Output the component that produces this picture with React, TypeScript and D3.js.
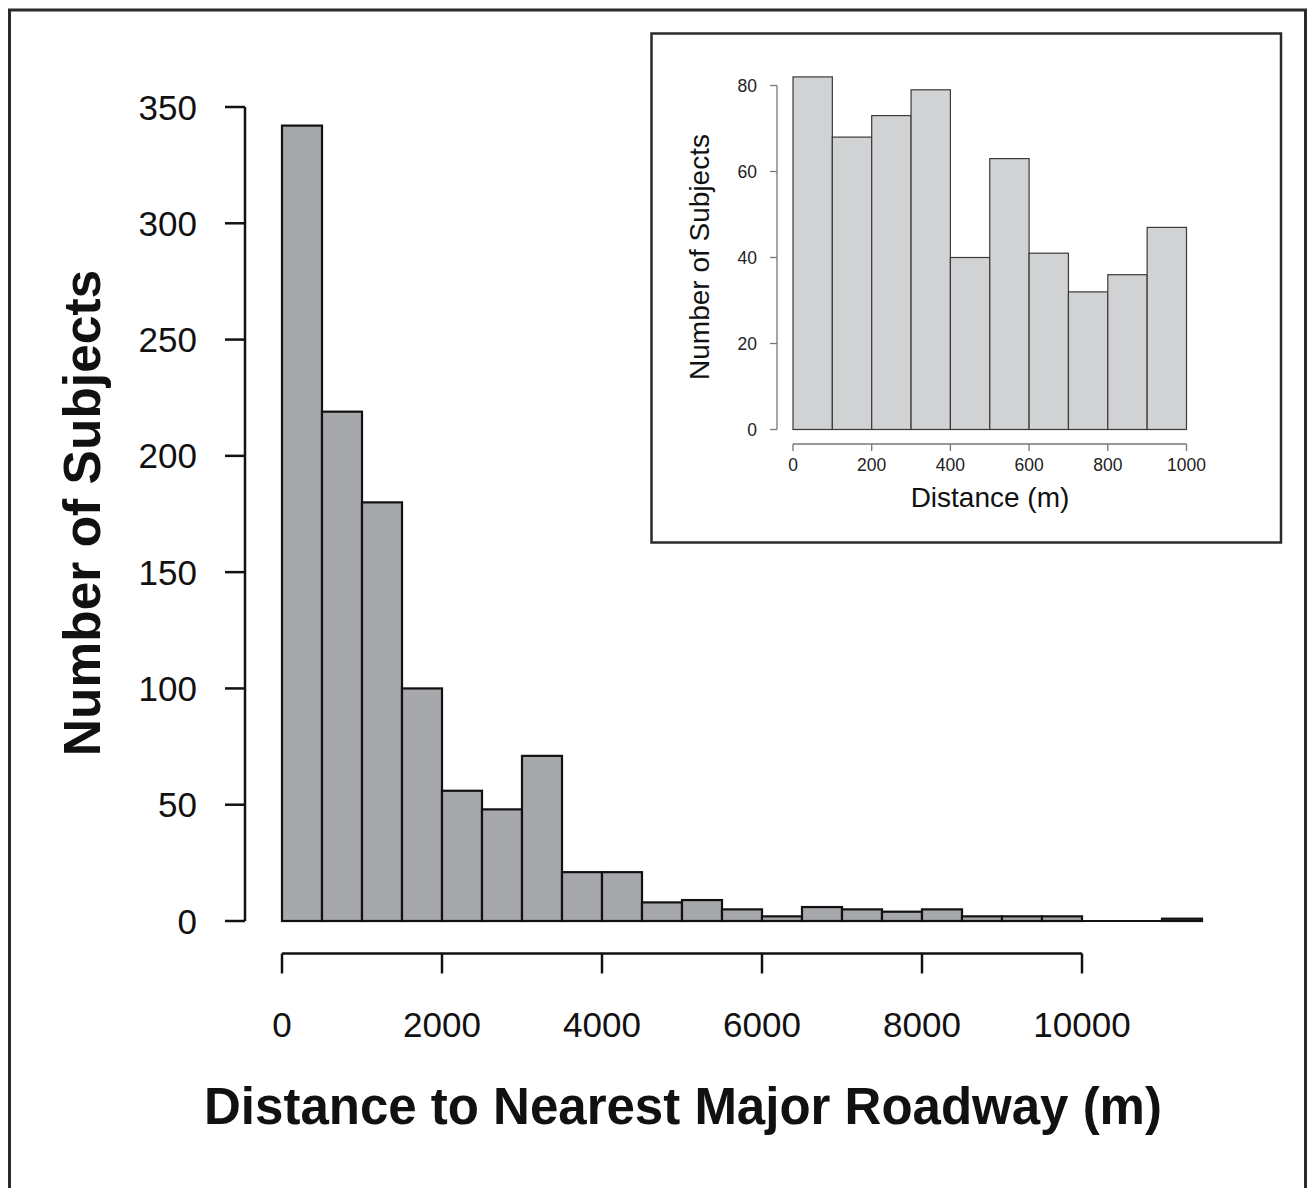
import React from "react";
import * as d3 from "d3";

// Main histogram: 500 m bins from 0 to 11500 m
const mainBinEdges = [0, 500, 1000, 1500, 2000, 2500, 3000, 3500, 4000, 4500, 5000, 5500, 6000, 6500, 7000, 7500, 8000, 8500, 9000, 9500, 10000, 10500, 11000, 11500];
const mainCounts = [342, 219, 180, 100, 56, 48, 71, 21, 21, 8, 9, 5, 2, 6, 5, 4, 5, 2, 2, 2, 0, 0, 1];
const mainYTicks = [0, 50, 100, 150, 200, 250, 300, 350];
const mainXTicks = [0, 2000, 4000, 6000, 8000, 10000];

// Inset histogram: 100 m bins from 0 to 1000 m
const insetBinEdges = [0, 100, 200, 300, 400, 500, 600, 700, 800, 900, 1000];
const insetCounts = [82, 68, 73, 79, 40, 63, 41, 32, 36, 47];
const insetYTicks = [0, 20, 40, 60, 80];
const insetXTicks = [0, 200, 400, 600, 800, 1000];

const FONT = "'Liberation Sans', Arial, Helvetica, sans-serif";

export default function App() {
  const W = 1314, H = 1188;

  // main scales
  const x = d3.scaleLinear().domain([0, 10000]).range([282, 1082]);
  const y = d3.scaleLinear().domain([0, 350]).range([921, 107]);

  // inset scales
  const xi = d3.scaleLinear().domain([0, 1000]).range([793, 1186.5]);
  const yi = d3.scaleLinear().domain([0, 80]).range([429.5, 85.5]);

  const mainBins = mainCounts.map((c, i) => ({ x0: mainBinEdges[i], x1: mainBinEdges[i + 1], c }));
  const insetBins = insetCounts.map((c, i) => ({ x0: insetBinEdges[i], x1: insetBinEdges[i + 1], c }));

  const mainAxisY = 953.5;
  const insetAxisY = 444;
  const mainAxisX = 245;
  const insetAxisX = 777;

  return (
    <svg width={W} height={H} style={{ position: "absolute", left: 0, top: 0, background: "#fff" }} fontFamily={FONT}>
      <rect x={0} y={0} width={W} height={H} fill="#fff" />
      {/* outer frame */}
      <rect x={9.5} y={10} width={1296} height={1200} fill="none" stroke="#2b2b2b" strokeWidth={3} />

      {/* main bars */}
      <g>
        {mainBins.map((b, i) =>
          b.c > 0 ? (
            <rect key={i} x={x(b.x0)} y={y(b.c)} width={x(b.x1) - x(b.x0)} height={y(0) - y(b.c)}
              fill="#a7a8ab" stroke="#111" strokeWidth={2.2} />
          ) : (
            <line key={i} x1={x(b.x0)} x2={x(b.x1)} y1={y(0)} y2={y(0)} stroke="#111" strokeWidth={2.2} />
          )
        )}
      </g>

      {/* main y axis */}
      <g stroke="#111" strokeWidth={2.5} fill="none">
        <line x1={mainAxisX} x2={mainAxisX} y1={y(0)} y2={y(350)} />
        {mainYTicks.map((t) => (
          <line key={t} x1={mainAxisX - 20} x2={mainAxisX} y1={y(t)} y2={y(t)} />
        ))}
      </g>
      {mainYTicks.map((t) => (
        <text key={t} x={197} y={y(t) + 12.5} fontSize={35} textAnchor="end" fill="#111">{t}</text>
      ))}

      {/* main x axis */}
      <g stroke="#111" strokeWidth={2.5} fill="none">
        <line x1={x(0)} x2={x(10000)} y1={mainAxisY} y2={mainAxisY} />
        {mainXTicks.map((t) => (
          <line key={t} x1={x(t)} x2={x(t)} y1={mainAxisY} y2={mainAxisY + 20} />
        ))}
      </g>
      {mainXTicks.map((t) => (
        <text key={t} x={x(t)} y={1037} fontSize={35} textAnchor="middle" fill="#111">{t}</text>
      ))}

      {/* main titles */}
      <text x={683} y={1124} fontSize={51} fontWeight="bold" textAnchor="middle" fill="#111">Distance to Nearest Major Roadway (m)</text>
      <text transform="translate(100,513) rotate(-90)" fontSize={51.5} fontWeight="bold" textAnchor="middle" fill="#111">Number of Subjects</text>

      {/* inset frame */}
      <rect x={651.5} y={33.5} width={629.5} height={509} fill="#fff" stroke="#2b2b2b" strokeWidth={2.5} />

      {/* inset bars */}
      <g>
        {insetBins.map((b, i) => (
          <rect key={i} x={xi(b.x0)} y={yi(b.c)} width={xi(b.x1) - xi(b.x0)} height={yi(0) - yi(b.c)}
            fill="#d1d2d4" stroke="#3a3a3a" strokeWidth={1.2} />
        ))}
      </g>

      {/* inset y axis */}
      <g stroke="#777" strokeWidth={1.3} fill="none">
        <line x1={insetAxisX} x2={insetAxisX} y1={yi(0)} y2={yi(80)} />
        {insetYTicks.map((t) => (
          <line key={t} x1={insetAxisX - 7} x2={insetAxisX} y1={yi(t)} y2={yi(t)} />
        ))}
      </g>
      {insetYTicks.map((t) => (
        <text key={t} x={757} y={yi(t) + 6} fontSize={17.5} textAnchor="end" fill="#222">{t}</text>
      ))}

      {/* inset x axis */}
      <g stroke="#777" strokeWidth={1.3} fill="none">
        <line x1={xi(0)} x2={xi(1000)} y1={insetAxisY} y2={insetAxisY} />
        {insetXTicks.map((t) => (
          <line key={t} x1={xi(t)} x2={xi(t)} y1={insetAxisY} y2={insetAxisY + 7} />
        ))}
      </g>
      {insetXTicks.map((t) => (
        <text key={t} x={xi(t)} y={471} fontSize={17.5} textAnchor="middle" fill="#222">{t}</text>
      ))}

      {/* inset titles */}
      <text x={990} y={507} fontSize={28} textAnchor="middle" fill="#111">Distance (m)</text>
      <text transform="translate(709,257) rotate(-90)" fontSize={28} textAnchor="middle" fill="#111">Number of Subjects</text>
    </svg>
  );
}
